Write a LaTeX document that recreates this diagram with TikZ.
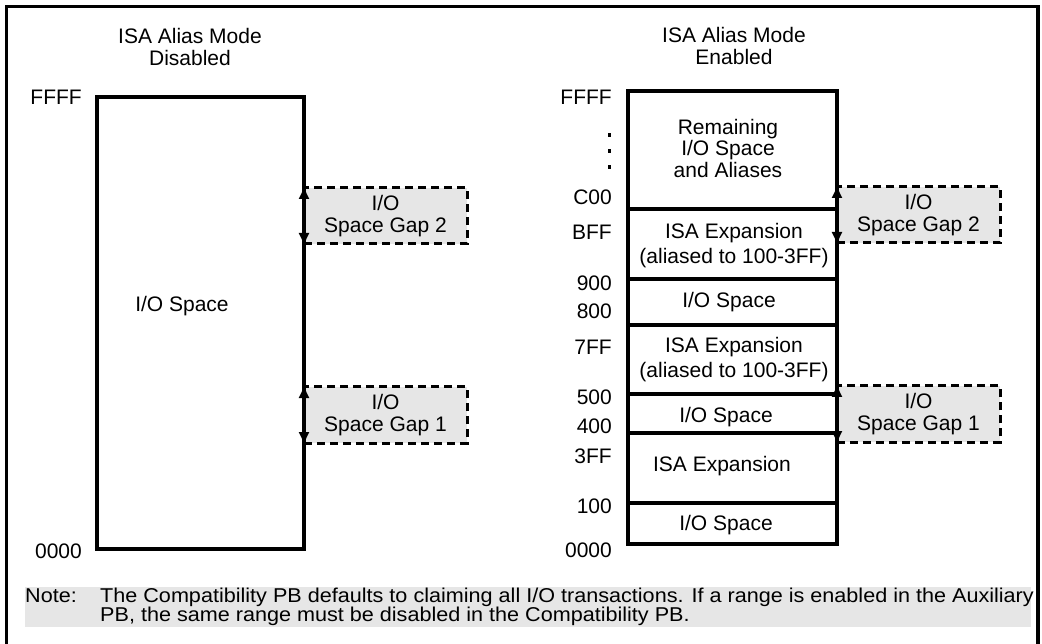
\documentclass[tikz,border=0pt]{standalone}
\usepackage{fontspec}
\setmainfont{Liberation Sans}
\newfontfamily\notefont[FakeStretch=1.08]{Liberation Sans}
\usetikzlibrary{arrows.meta}
\definecolor{gapgray}{RGB}{230,230,230}
\tikzset{
  memline/.style={line width=3.4pt},
  txt/.style={font=\fontsize{21}{22}\selectfont, align=center, inner sep=0pt},
  addr/.style={txt, anchor=east},
  gapbox/.style={txt, draw, fill=gapgray, line width=3pt, dash pattern=on 8pt off 5pt,
    minimum width=163pt, minimum height=56pt, outer sep=0pt},
  gaparrow/.style={line width=2pt, {Triangle[length=11pt,width=10pt]}-{Triangle[length=11pt,width=10pt]}},
  notetxt/.style={font=\notefont\fontsize{20}{20}\selectfont, inner sep=0pt, anchor=base west}
}
\begin{document}
\begin{tikzpicture}[x=1pt, y=-1pt, line cap=butt, line join=miter]
  \useasboundingbox (0,0) rectangle (1042,644);

  % Outer frame
  \draw[memline] (6.5,644) -- (6.5,6.5) -- (1038,6.5) -- (1038,644);

  % Titles
  \node[txt] (titleoff) at (190,47) {ISA Alias Mode\\Disabled};
  \node[txt] (titleon) at (734,46) {ISA Alias Mode\\Enabled};

  % Space gaps
  \node[gapbox] (gapL2) at (385.5,216) {I/O\\Space Gap 2};
  \node[gapbox] (gapL1) at (385.5,415) {I/O\\Space Gap 1};
  \node[gapbox] (gapR2) at (918.5,215) {I/O\\Space Gap 2};
  \node[gapbox] (gapR1) at (918.5,414) {I/O\\Space Gap 1};

  % Disabled map
  \draw[memline] (97,97) rectangle (304,549);
  \node[txt] (ioleft) at (182,306) {I/O Space};
  \node[addr] (topL) at (82,97) {FFFF};
  \node[addr] (botL) at (82,551) {0000};

  % Enabled map
  \draw[memline] (628,91) rectangle (837,544);
  \foreach \y in {209,279,325,394,433,503}
    \draw[memline] (628,\y) -- (837,\y);

  \node[txt, font=\fontsize{21}{21.5}\selectfont] (remain) at (728,148) {Remaining\\I/O Space\\and Aliases};
  \node[txt, font=\fontsize{21}{25}\selectfont] (isaC) at (734,246) {ISA Expansion\\(aliased to 100-3FF)};
  \node[txt] (ioB) at (729,302) {I/O Space};
  \node[txt, font=\fontsize{21}{25}\selectfont] (isaB) at (734,360) {ISA Expansion\\(aliased to 100-3FF)};
  \node[txt] (ioA) at (726,417) {I/O Space};
  \node[txt] (isaA) at (722,466) {ISA Expansion};
  \node[txt] (ioZ) at (726,525) {I/O Space};

  % Addresses
  \node[addr] (aFFFF) at (612,97) {FFFF};
  \foreach \y in {135,151,167}
    \fill (607.5,\y-1.7) rectangle (611,\y+1.7);
  \node[addr] (aC00) at (612,197) {C00};
  \node[addr] (aBFF) at (612,232) {BFF};
  \node[addr] (a900) at (612,283) {900};
  \node[addr] (a800) at (612,311) {800};
  \node[addr] (a7FF) at (612,347) {7FF};
  \node[addr] (a500) at (612,397) {500};
  \node[addr] (a400) at (612,426) {400};
  \node[addr] (a3FF) at (612,456) {3FF};
  \node[addr] (a100) at (612,506) {100};
  \node[addr] (a0000) at (612,550) {0000};

  % Gap arrows
  \draw[gaparrow] (gapL2.north west) -- (gapL2.south west);
  \draw[gaparrow] (gapL1.north west) -- (gapL1.south west);
  \draw[gaparrow] (gapR2.north west) -- (gapR2.south west);
  \draw[gaparrow] (gapR1.north west) -- (gapR1.south west);

  % Note
  \fill[gapgray] (25,587) rectangle (1031,627);
  \node[notetxt] (notelbl) at (25,602) {Note:};
  \node[notetxt] (noteA) at (100,602) {The Compatibility PB defaults to claiming all I/O transactions. If a range is enabled in the Auxiliary};
  \node[notetxt] (noteB) at (100,621) {PB, the same range must be disabled in the Compatibility PB.};
\end{tikzpicture}
\end{document}
